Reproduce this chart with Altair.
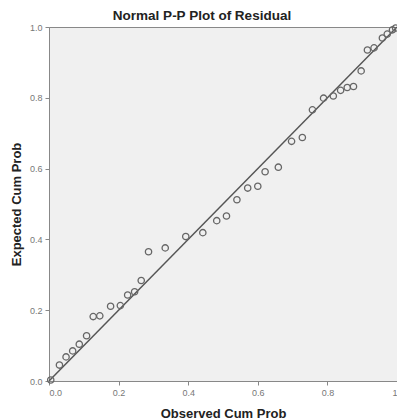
import altair as alt
import pandas as pd

observed = [0.005, 0.030, 0.049, 0.068, 0.087, 0.108, 0.127, 0.146, 0.177, 0.205,
            0.226, 0.246, 0.265, 0.286, 0.334, 0.393, 0.442, 0.482, 0.510, 0.540,
            0.571, 0.600, 0.621, 0.659, 0.697, 0.728, 0.757, 0.789, 0.817, 0.838,
            0.857, 0.875, 0.897, 0.915, 0.934, 0.958, 0.972, 0.987, 0.996]
expected = [0.003, 0.045, 0.068, 0.085, 0.104, 0.128, 0.182, 0.184, 0.211, 0.213,
            0.243, 0.252, 0.284, 0.365, 0.376, 0.408, 0.419, 0.453, 0.466, 0.512,
            0.545, 0.550, 0.591, 0.604, 0.677, 0.688, 0.766, 0.799, 0.805, 0.821,
            0.829, 0.832, 0.876, 0.935, 0.941, 0.969, 0.980, 0.992, 0.997]

line_x = [0.0, 1.0]
line_y = [0.0, 1.0]

pts = pd.DataFrame({"obs": observed, "exp": expected})
ref = pd.DataFrame({"obs": line_x, "exp": line_y})

xscale = alt.Scale(domain=[0, 1], nice=False, zero=False)
yscale = alt.Scale(domain=[0, 1], nice=False, zero=False)

xaxis = alt.Axis(title="Observed Cum Prob", values=[0, 0.2, 0.4, 0.6, 0.8, 1.0],
                 labelExpr="datum.value == 1 ? '1' : format(datum.value, '.1f')",
                 grid=False, tickSize=4, labelFontSize=9, labelColor="#777",
                 domainColor="#888", tickColor="#888", labelPadding=3,
                 titleFontSize=13, titleFontWeight="bold", titleColor="#222",
                 titlePadding=10, labelFont="Liberation Sans", titleFont="Liberation Sans")
yaxis = alt.Axis(title="Expected Cum Prob", values=[0, 0.2, 0.4, 0.6, 0.8, 1.0],
                 format=".1f", grid=False, tickSize=4, labelFontSize=9, labelColor="#777",
                 domainColor="#888", tickColor="#888", labelPadding=3,
                 titleFontSize=13, titleFontWeight="bold", titleColor="#222",
                 titlePadding=6, labelFont="Liberation Sans", titleFont="Liberation Sans")

line = alt.Chart(ref).mark_line(color="#555", strokeWidth=1.5).encode(
    x=alt.X("obs:Q", scale=xscale, axis=xaxis),
    y=alt.Y("exp:Q", scale=yscale, axis=yaxis),
)

points = alt.Chart(pts).mark_point(shape="circle", filled=False, color="#666",
                                   size=40, strokeWidth=1.3, opacity=1).encode(
    x=alt.X("obs:Q", scale=xscale),
    y=alt.Y("exp:Q", scale=yscale),
)

chart = (line + points).properties(
    width=348, height=354,
    title=alt.TitleParams("Normal P-P Plot of Residual", fontSize=13.5, fontWeight="bold",
                          color="#222", font="Liberation Sans", offset=0, dx=-21),
    autosize=alt.AutoSizeParams(type="none"),
    padding={"left": 41, "top": 19, "right": 0, "bottom": 38},
    background="white",
).configure_view(fill="#f0f0f0", stroke="#888", strokeWidth=1)

chart.save("out.html", embed_options={"renderer": "svg", "actions": False})
